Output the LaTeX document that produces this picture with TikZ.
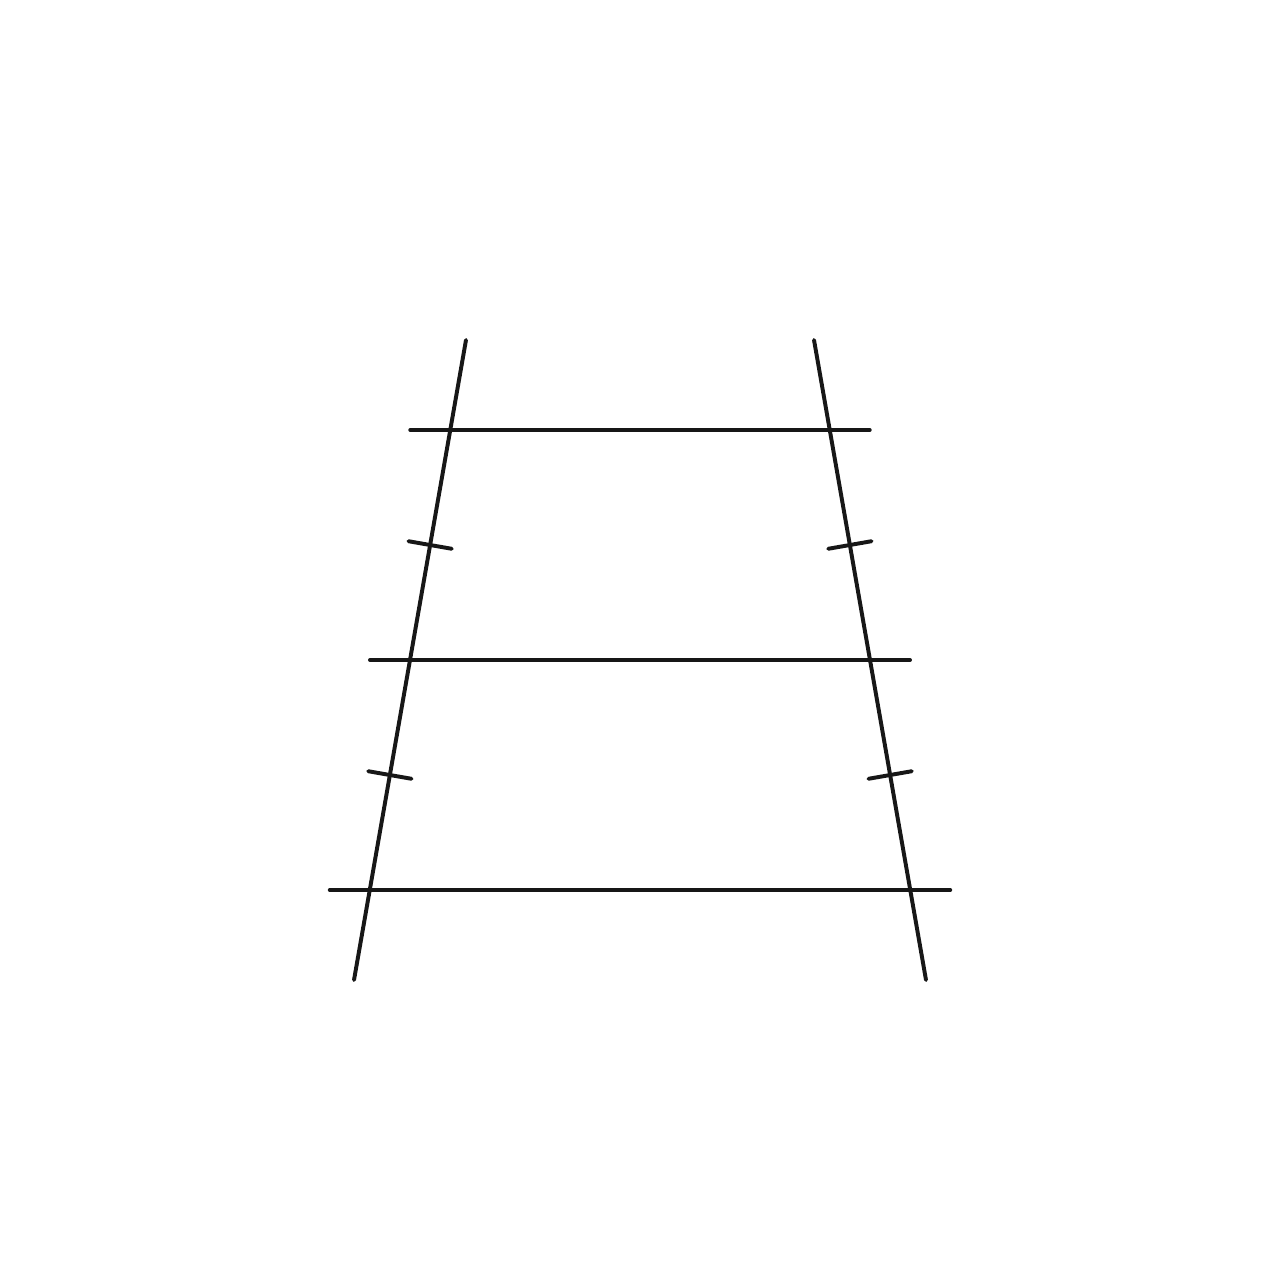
\documentclass[tikz,border=0pt]{standalone}
\usetikzlibrary{calc}

\begin{document}
\begin{tikzpicture}[x=0.025cm, y=-0.025cm]
      \tikzstyle{side}=[draw={rgb:black, 10; white, 1}, line width=2.8pt, line cap=round]
      \tikzstyle{tick}=[side]

      % Fix the frame of the picture.
      \useasboundingbox (0,0) rectangle (1280,1280);

      % Ends of the two slanted sides.
      \coordinate (lt) at (466,340);   % left side, top end.
      \coordinate (lb) at (354,980);   % left side, bottom end.
      \coordinate (rt) at (814,340);   % right side, top end.
      \coordinate (rb) at (926,980);   % right side, bottom end.

      % Crossing points of the sides with the three rungs.
      \coordinate (l_1) at (450.25,430);
      \coordinate (l_2) at (410,660);
      \coordinate (l_3) at (369.75,890);
      \coordinate (r_1) at (829.75,430);
      \coordinate (r_2) at (870,660);
      \coordinate (r_3) at (910.25,890);

      % Slanted sides.
      \draw[side] (lt) -- (lb);
      \draw[side] (rt) -- (rb);

      % Rungs, overhanging each side by 40.
      \draw[side] ($(l_1)+(-40,0)$) -- ($(r_1)+(40,0)$);
      \draw[side] ($(l_2)+(-40,0)$) -- ($(r_2)+(40,0)$);
      \draw[side] ($(l_3)+(-40,0)$) -- ($(r_3)+(40,0)$);

      % Equal-length tick marks at the middle of each piece.
      \foreach \s in {l, r} {
        \foreach \i/\j in {1/2, 2/3} {
          \coordinate (m) at ($(\s_\i)!0.5!(\s_\j)$);
          \draw[tick] ($(m)!0.55cm!90:(\s_\j)$) -- ($(m)!0.55cm!-90:(\s_\j)$);
        }
      }
    \end{tikzpicture}
\end{document}
